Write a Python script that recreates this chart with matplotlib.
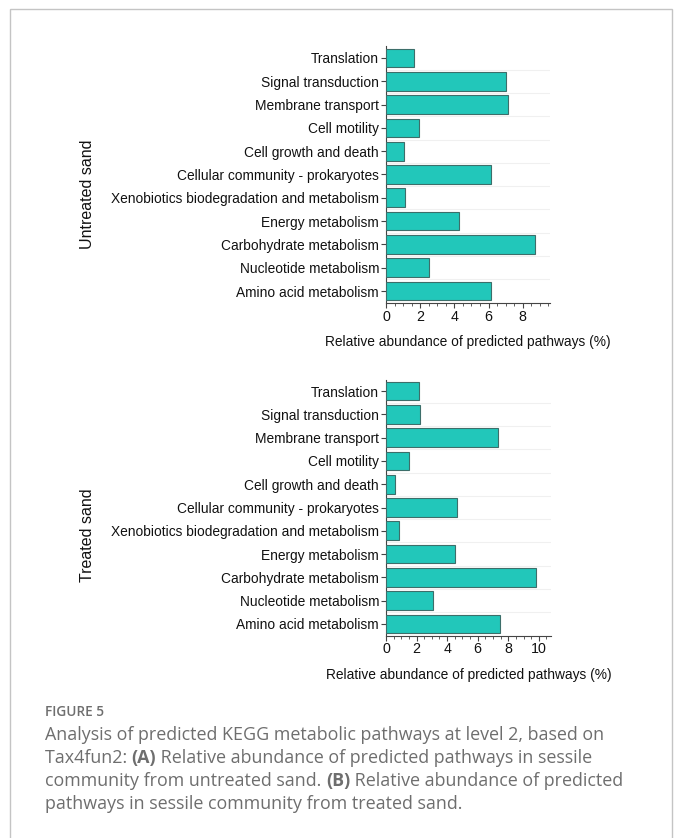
import numpy as np
import matplotlib
matplotlib.use("Agg")
import matplotlib.pyplot as plt
from matplotlib.patches import Rectangle
from matplotlib.ticker import MultipleLocator

categories = ["Translation", "Signal transduction", "Membrane transport", "Cell motility",
              "Cell growth and death", "Cellular community - prokaryotes",
              "Xenobiotics biodegradation and metabolism", "Energy metabolism",
              "Carbohydrate metabolism", "Nucleotide metabolism", "Amino acid metabolism"]
untreated = [1.66, 7.02, 7.15, 1.95, 1.03, 6.16, 1.11, 4.29, 8.73, 2.53, 6.16]
treated = [2.17, 2.24, 7.30, 1.51, 0.59, 4.67, 0.86, 4.50, 9.85, 3.05, 7.46]
panel_labels = ["Untreated sand", "Treated sand"]
xlabel = "Relative abundance of predicted pathways (%)"
top_ticks = [0, 2, 4, 6, 8]
bottom_ticks = [0, 2, 4, 6, 8, 10]

W, H = 682, 838
fig = plt.figure(figsize=(W / 100, H / 100), dpi=100)
fig.patch.set_facecolor("white")

# frame
fig.patches.append(Rectangle((10 / W, -0.05), 662 / W, 1.05 - 9 / H, transform=fig.transFigure,
                             fill=False, edgecolor="#c4c4c4", linewidth=1.0, clip_on=False))

FACE = "#22C7BA"
EDGE = "#3d6e6a"
LBL = "Liberation Sans"


def panel(rect, vals, ticks, xmax):
    ax = fig.add_axes(rect)
    y = np.arange(len(categories))
    ax.barh(y, vals, height=0.8, color=FACE, edgecolor=EDGE, linewidth=0.8, zorder=3)
    ax.set_ylim(len(categories) - 0.5, -0.5)
    ax.set_xlim(0, xmax)
    ax.set_yticks(y)
    ax.set_yticklabels(categories, fontsize=9.9, family=LBL, color="#111111")
    ax.set_yticks(np.arange(0.5, len(categories) - 0.5), minor=True)
    ax.tick_params(axis="y", which="minor", length=0)
    ax.grid(axis="y", which="minor", color="#f0f0f0", linewidth=0.8, zorder=0)
    ax.set_xticks(ticks)
    ax.set_xticklabels([str(t) for t in ticks], fontsize=10.3, family=LBL, color="#111111")
    ax.xaxis.set_minor_locator(MultipleLocator(0.5))
    ax.tick_params(axis="both", which="major", length=3.5, width=0.8, color="#444444", pad=1.5)
    ax.tick_params(axis="x", which="minor", length=2, width=0.6, color="#444444")
    for s in ["top", "right"]:
        ax.spines[s].set_visible(False)
    for s in ["left", "bottom"]:
        ax.spines[s].set_color("#444444")
        ax.spines[s].set_linewidth(0.8)
    ax.set_xlabel(xlabel, fontsize=9.9, family=LBL, color="#111111", labelpad=8)
    return ax


ax1 = panel([386 / W, 1 - 302.7 / H, 164 / W, 256.4 / H], untreated, top_ticks, 9.6)
ax2 = panel([386 / W, 1 - 635.5 / H, 165 / W, 256 / H], treated, bottom_ticks, 10.8)

fig.text(87 / W, 1 - 194 / H, panel_labels[0], rotation=90, ha="center", va="center",
         fontsize=11.5, family=LBL, color="#111111")
fig.text(87 / W, 1 - 535 / H, panel_labels[1], rotation=90, ha="center", va="center",
         fontsize=11.5, family=LBL, color="#111111")

# caption
CAP = "#6e6e6e"
CF = "Open Sans"
fig.text(45 / W, 1 - 712 / H, "FIGURE 5", fontsize=9.8, family=CF, weight="semibold",
         color=CAP, va="center")

lines = [
    [("Analysis of predicted KEGG metabolic pathways at level 2, based on", "normal")],
    [("Tax4fun2: ", "normal"), ("(A)", "bold"), (" Relative abundance of predicted pathways in sessile", "normal")],
    [("community from untreated sand. ", "normal"), ("(B)", "bold"), (" Relative abundance of predicted", "normal")],
    [("pathways in sessile community from treated sand.", "normal")],
]
fig.canvas.draw()
renderer = fig.canvas.get_renderer()
y0 = 735
for i, runs in enumerate(lines):
    xpx = 45
    for txt, wt in runs:
        t = fig.text(xpx / W, 1 - (y0 + 23 * i) / H, txt, fontsize=12.9, family=CF, weight=wt,
                     color=CAP, va="center")
        bb = t.get_window_extent(renderer=renderer)
        xpx += bb.width

fig.savefig("out.png", dpi=100, facecolor="white")
